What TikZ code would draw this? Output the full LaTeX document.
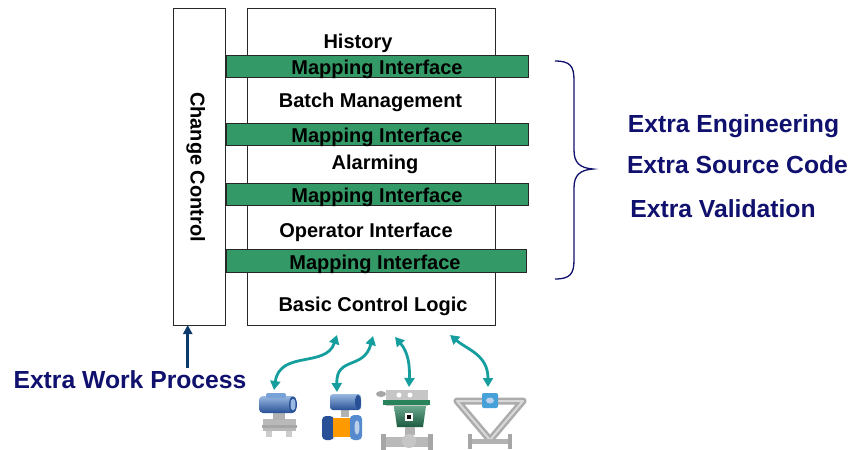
\documentclass[tikz,border=0pt]{standalone}
\usepackage{fontspec}
\setmainfont{Liberation Sans}
\usetikzlibrary{arrows.meta}
\definecolor{mapgreen}{RGB}{51,153,102}
\definecolor{navytext}{RGB}{16,16,110}
\definecolor{arrowblue}{RGB}{12,58,108}
\definecolor{tealarrow}{RGB}{22,158,158}
\definecolor{boxline}{RGB}{40,40,40}
\definecolor{devblue}{RGB}{86,138,206}
\definecolor{devblueD}{RGB}{40,80,150}
\definecolor{devgreen}{RGB}{40,130,90}
\begin{document}
\begin{tikzpicture}[x=1pt,y=-1pt,
  lbl/.style={font=\bfseries\fontsize{20}{22}\selectfont, inner sep=0pt, anchor=base},
  xlbl/.style={font=\bfseries\fontsize{24.7}{28}\selectfont, text=navytext, inner sep=0pt, anchor=base},
  layerbox/.style={draw=boxline, line width=1pt, fill=white, inner sep=0pt, outer sep=0pt},
  mapbar/.style={draw=black!85, line width=1pt, fill=mapgreen},
  tealconn/.style={draw=tealarrow, line width=2.8pt, {Triangle[width=10pt,length=9pt]}-{Triangle[width=10pt,length=9pt]}},
  upconn/.style={draw=arrowblue, line width=3pt, -{Triangle[width=9pt,length=9pt]}},
  bracestyle/.style={draw=navytext, line width=1.3pt}
]
\useasboundingbox (0,0) rectangle (852,450);
\fill[white] (0,0) rectangle (852,450);

% boxes
\node[layerbox, minimum width=52.5pt, minimum height=317pt] (cc) at (199.5,166.5) {};
\node[layerbox, minimum width=248.5pt, minimum height=317pt] (main) at (371.5,166.5) {};

% mapping bars
\draw[mapbar] (226,55) rectangle (528,77.7);
\draw[mapbar] (226,123.3) rectangle (528,145.7);
\draw[mapbar] (226,183.3) rectangle (528,205.7);
\draw[mapbar] (226,249.3) rectangle (526,272.3);

% layer labels
\node[lbl] (hist) at (358,48) {History};
\node[lbl] (m1) at (377,74.5) {Mapping Interface};
\node[lbl] (batch) at (370.5,107.5) {Batch Management};
\node[lbl] (m2) at (377,142) {Mapping Interface};
\node[lbl] (alarm) at (375,169) {Alarming};
\node[lbl] (m3) at (377,202) {Mapping Interface};
\node[lbl] (opint) at (366,237) {Operator Interface};
\node[lbl] (m4) at (375,269) {Mapping Interface};
\node[lbl] (bcl) at (373,311.5) {Basic Control Logic};
\node[lbl, rotate=-90] (cclbl) at (190.5,167) {Change Control};

% brace
\draw[bracestyle] (555,61) .. controls (570,61) and (574,66) .. (574,80)
  -- (574,150) .. controls (574,163) and (580,168) .. (593,169)
  .. controls (580,170) and (574,175) .. (574,188)
  -- (574,260) .. controls (574,274) and (570,279) .. (555,279);

% extra texts
\node[xlbl] (xeng) at (733.5,132.5) {Extra Engineering};
\node[xlbl] (xsrc) at (737.5,173) {Extra Source Code};
\node[xlbl] (xval) at (723,217) {Extra Validation};
\node[xlbl] (ewp) at (130,388) {Extra Work Process};
\coordinate (ewptop) at (187.7,368);
\draw[upconn] (ewptop) -- (ewptop |- cc.south);

% ---- devices ----
% pressure transmitter
\fill[gray!55] (263,419) rectangle (296,431);
\fill[gray!40] (266,431) rectangle (272,437);
\fill[gray!40] (286,431) rectangle (292,437);
\fill[gray!70] (262,425) rectangle (297,428);
\fill[gray!60] (273,411) rectangle (285,420);
\shade[top color=devblue!60!white, bottom color=devblueD, rounded corners=4pt] (259,396) rectangle (296,413);
\fill[devblue!80!white, rounded corners=2pt] (266,393) rectangle (286,398);
\fill[devblueD] (293,404.5) ellipse (4 and 8);
\fill[devblue!60!white] (293,404.5) ellipse (2.5 and 6);

% magnetic flowmeter
\fill[gray!60] (341,409) rectangle (349,417);
\shade[top color=devblue!60!white, bottom color=devblueD, rounded corners=3pt] (330,394) rectangle (361,410);
\fill[devblueD] (358,402) ellipse (3 and 7);
\fill[devblueD, rounded corners=4pt] (322,416) rectangle (334,440);
\fill[orange!80!yellow] (333,418) rectangle (351,437);
\fill[devblue, rounded corners=4pt] (350,415) rectangle (362,440);
\fill[devblue!40!white] (357,427.5) ellipse (2.5 and 7);

% control valve
\fill[gray!45] (386,390) rectangle (428,406);
\fill[devgreen] (383,400) rectangle (430,405);
\fill[white] (399,395) circle (2.5);
\fill[white] (410,395) circle (2.5);
\fill[gray!70] (381,394) ellipse (5 and 3);
\shade[top color=devgreen!70!white, bottom color=devgreen!70!black] (394,406) -- (426,406) -- (423,427) -- (397,427) -- cycle;
\fill[white] (405,413) rectangle (413,421);
\fill[black] (407,415) rectangle (411,419);
\fill[gray!60] (405,427) rectangle (415,435);
\fill[gray!55] (383,437) rectangle (431,447);
\fill[gray!70] (381,434) rectangle (386,450);
\fill[gray!70] (428,434) rectangle (433,450);
\fill[gray!45] (409,441) circle (7);

% coriolis meter
\draw[gray!65, line width=7pt, line join=round] (457,401) -- (523,401) -- (490,440) -- cycle;
\draw[gray!30, line width=2pt, line join=round] (457,401) -- (523,401) -- (490,440) -- cycle;
\fill[gray!60] (470,439) rectangle (510,444);
\fill[gray!70] (468,434) rectangle (472,449);
\fill[gray!70] (508,434) rectangle (512,449);
\fill[devblue!80!cyan, rounded corners=2pt] (482,393) rectangle (498,408);
\fill[devblue!40!white] (490,400.5) ellipse (4 and 3);

% teal connectors
\coordinate (t1) at (337,335); \coordinate (d1) at (274,390);
\coordinate (t2) at (373,336); \coordinate (d2) at (337,392);
\coordinate (t3) at (395,337); \coordinate (d3) at (409,387);
\coordinate (t4) at (450,335); \coordinate (d4) at (488,387);
\draw[tealconn] (t1) .. controls (326,368) and (280,350) .. (d1);
\draw[tealconn] (t2) .. controls (364,370) and (336,356) .. (d2);
\draw[tealconn] (t3) .. controls (408,352) and (410,365) .. (d3);
\draw[tealconn] (t4) .. controls (468,350) and (488,355) .. (d4);
\end{tikzpicture}
\end{document}
